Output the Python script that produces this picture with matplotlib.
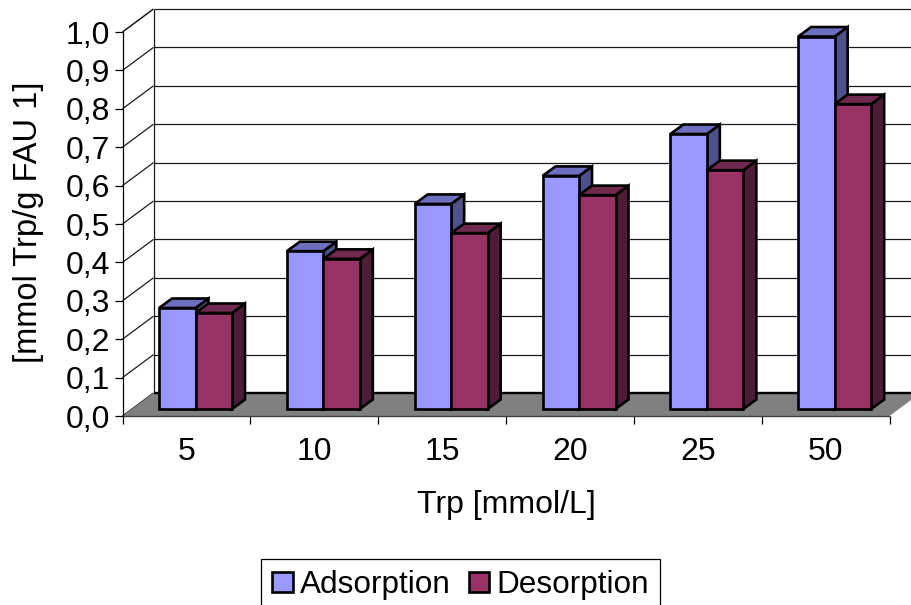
import matplotlib
matplotlib.use('Agg')
import matplotlib.pyplot as plt
from matplotlib.patches import Polygon, Patch

plt.rcParams['font.family'] = ['Liberation Sans', 'DejaVu Sans']

# Data
categories = ['5', '10', '15', '20', '25', '50']
adsorption = [0.263, 0.411, 0.534, 0.607, 0.716, 0.970]
desorption = [0.250, 0.391, 0.458, 0.557, 0.622, 0.794]
y_ticks = [0.0, 0.1, 0.2, 0.3, 0.4, 0.5, 0.6, 0.7, 0.8, 0.9, 1.0]

# Pixel layout of the front plane
W, H = 911, 605
FS = 23.0
PX = 127.83  # pixels per category
PY = 384.0   # pixels per 1.0

# Oblique offsets, data units
wall_dx, wall_dy = 31 / PX, 23 / PY
bar_dx, bar_dy = 13 / PX, 9.5 / PY
bar_w = 36.5 / PX
bar_x0 = 36.5 / PX
bar_y0 = 7 / PY

fig = plt.figure(figsize=(W / 100, H / 100), dpi=100)
ax = fig.add_axes([122.5 / W, (H - 416) / H, 767 / W, 384 / H])
ax.set_xlim(0, 6)
ax.set_ylim(0, 1)
ax.patch.set_visible(False)


def poly(pts, fc, ec='black', lw=1.9, z=5):
    ax.add_patch(Polygon(pts, closed=True, facecolor=fc, edgecolor=ec, linewidth=lw,
                         joinstyle='miter', clip_on=False, zorder=z))


def line(xs, ys, lw=0.9, color='#1a1a1a', z=2):
    ax.plot(xs, ys, color=color, lw=lw, clip_on=False, zorder=z, solid_capstyle='butt')


# Grid on the back wall and the side wall
right_end = 6 + 2 * wall_dx
for t in y_ticks:
    line([0, wall_dx], [t, t + wall_dy], lw=1.1 if t == 1.0 else 0.9)
    if t > 0:
        line([wall_dx, right_end], [t + wall_dy, t + wall_dy])
line([wall_dx, wall_dx], [wall_dy, 1 + wall_dy])

# Floor
poly([(0, 0), (6, 0), (6 + wall_dx, wall_dy), (wall_dx, wall_dy)], '#808080', ec='none', lw=0, z=3)
line([wall_dx, right_end], [wall_dy, wall_dy], lw=1.7, color='black', z=3)
line([0, 6], [0, 0], lw=1.0, color='#404040', z=4)


def bar3d(x, v, front, top, side):
    y0 = bar_y0
    y1 = bar_y0 + v
    poly([(x + bar_w, y0), (x + bar_w + bar_dx, y0 + bar_dy),
          (x + bar_w + bar_dx, y1 + bar_dy), (x + bar_w, y1)], side)
    poly([(x, y1), (x + bar_dx, y1 + bar_dy),
          (x + bar_w + bar_dx, y1 + bar_dy), (x + bar_w, y1)], top)
    poly([(x, y0), (x + bar_w, y0), (x + bar_w, y1), (x, y1)], front)


for i in range(len(categories)):
    bar3d(i + bar_x0, adsorption[i], '#9999FF', '#6F6FBF', '#50508A')
    bar3d(i + bar_x0 + bar_w, desorption[i], '#993366', '#722950', '#4F1C36')

# Axes
for s in ['top', 'right', 'bottom']:
    ax.spines[s].set_visible(False)
ax.spines['left'].set_linewidth(0.9)
ax.spines['left'].set_zorder(6)

ax.set_yticks(y_ticks)
ax.set_yticklabels([('%.1f' % t).replace('.', ',') for t in y_ticks])
ax.tick_params(axis='y', length=6, width=0.9, pad=3, labelsize=FS)
ax.set_xticks(range(7))
ax.set_xticklabels([])
ax.set_xticks([i + 0.5 for i in range(6)], minor=True)
ax.set_xticklabels(categories, minor=True)
ax.tick_params(axis='x', which='major', length=6, width=0.9)
ax.tick_params(axis='x', which='minor', length=0, pad=15, labelsize=FS)

fig.text(506 / W, 1 - 505 / H, 'Trp [mmol/L]', fontsize=FS, ha='center', va='center')
fig.text(29 / W, 1 - 222 / H, '[mmol Trp/g FAU 1]', fontsize=FS + 0.5, rotation=90,
         ha='center', va='center')

# Legend runs off the bottom of the picture
handles = [Patch(facecolor='#9999FF', edgecolor='black', linewidth=1.9, label='Adsorption'),
           Patch(facecolor='#993366', edgecolor='black', linewidth=1.9, label='Desorption')]
leg = fig.legend(handles=handles, ncol=2, loc='upper left',
                 bbox_to_anchor=(261 / W, 1 - 559 / H), borderaxespad=0, fontsize=22.7,
                 handlelength=0.65, handleheight=0.62, handletextpad=0.22,
                 columnspacing=0.58, borderpad=0.36, fancybox=False, framealpha=1,
                 edgecolor='black')
leg.get_frame().set_linewidth(0.9)

plt.savefig('out.png', dpi=100)
